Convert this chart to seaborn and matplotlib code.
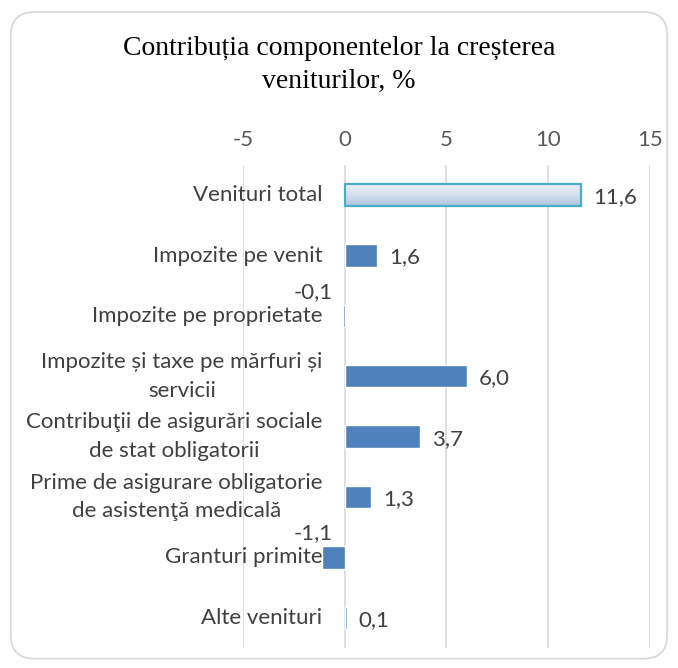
import numpy as np
import pandas as pd
import seaborn as sns
import matplotlib.pyplot as plt
import matplotlib.transforms as mtransforms
from matplotlib.colors import LinearSegmentedColormap
from matplotlib.patches import FancyBboxPatch

categories = [
    "Venituri total",
    "Impozite pe venit",
    "Impozite pe proprietate",
    "Impozite și taxe pe mărfuri și\nservicii",
    "Contribuţii de asigurări sociale\nde stat obligatorii",
    "Prime de asigurare obligatorie\nde asistenţă medicală",
    "Granturi primite",
    "Alte venituri",
]
values = [11.6, 1.6, -0.1, 6.0, 3.7, 1.3, -1.1, 0.1]
ticks = [-5, 0, 5, 10, 15]

df = pd.DataFrame({"cat": categories, "val": values})

sns.set_theme(style="white")
plt.rcParams["font.family"] = ["Lato", "DejaVu Sans"]

fig = plt.figure(figsize=(6.78, 6.68), dpi=100)
ax = fig.add_axes([0.358, 0.030, 0.601, 0.723])

sns.barplot(data=df, x="val", y="cat", orient="h", color="#4f81bd",
            saturation=1, width=0.37, ax=ax, zorder=3)

ax.set_xlim(-5, 15)
ax.set_ylim(len(categories) - 0.5, -0.5)
ax.set_xticks(ticks)
ax.set_xticklabels([str(t) for t in ticks])
ax.xaxis.tick_top()
ax.tick_params(axis="x", length=0, pad=11, labelsize=16, labelcolor="#595959")
ax.set_yticks([])
ax.set_xlabel("")
ax.set_ylabel("")
for s in ax.spines.values():
    s.set_visible(False)
ax.grid(axis="x", color="#d9d9d9", linewidth=1.2, zorder=0)
ax.set_axisbelow(True)

# gradient fill on the total bar
p0 = ax.patches[0]
x0, y0 = p0.get_x(), p0.get_y()
w, h = p0.get_width(), p0.get_height()
p0.set_facecolor("none")
p0.set_edgecolor("#4bacc6")
p0.set_linewidth(1.6)
cmap = LinearSegmentedColormap.from_list("g", ["#eef2f9", "#d5e0ee", "#b0c4df"])
grad = np.linspace(0, 1, 100).reshape(-1, 1)
im = ax.imshow(grad, extent=[x0, x0 + w, y0 + h, y0], aspect="auto",
               cmap=cmap, zorder=2, interpolation="bicubic")
im.set_clip_path(p0)
ax.set_xlim(-5, 15)
ax.set_ylim(len(categories) - 0.5, -0.5)

# category labels placed next to the zero line
lab_tr = mtransforms.offset_copy(ax.transData, fig=fig, x=-22, y=0, units="dots")
for i, c in enumerate(categories):
    ax.text(0, i, c, transform=lab_tr, ha="right", va="center",
            multialignment="center", fontsize=16, color="#404040",
            linespacing=1.55, zorder=4)

# value labels
for i, v in enumerate(values):
    txt = f"{v:.1f}".replace(".", ",")
    if v >= 0:
        tr = mtransforms.offset_copy(ax.transData, fig=fig, x=12, y=-2, units="dots")
        ax.text(v, i, txt, transform=tr, ha="left", va="center",
                fontsize=16, color="#404040", zorder=4)
    else:
        tr = mtransforms.offset_copy(ax.transData, fig=fig, x=-12, y=24, units="dots")
        ax.text(0, i, txt, transform=tr, ha="right", va="center",
                fontsize=16, color="#404040", zorder=4)

fig.text(0.5, 0.903, "Contribuția componentelor la creșterea\nveniturilor, %",
         ha="center", va="center", fontsize=20, color="#000000",
         family=["Liberation Serif", "DejaVu Serif"], linespacing=1.4)

frame = FancyBboxPatch((0.016, 0.014), 0.968, 0.968,
                       boxstyle="round,pad=0,rounding_size=0.035",
                       transform=fig.transFigure, facecolor="none",
                       edgecolor="#d9d9d9", linewidth=1.3)
fig.patches.append(frame)

fig.savefig("out.png", dpi=100)
